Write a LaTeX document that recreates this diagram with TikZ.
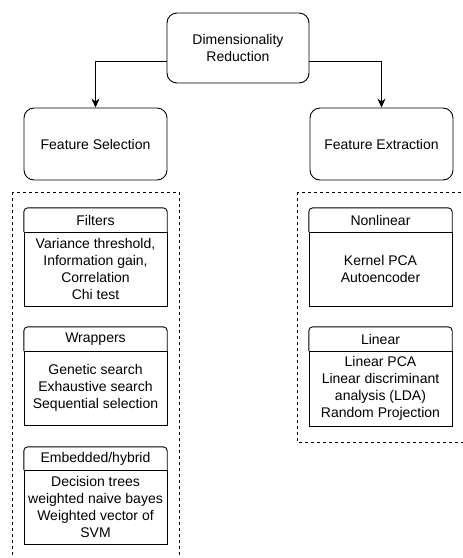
\documentclass[tikz,border=0pt]{standalone}
\usepackage{fontspec}
\setmainfont{Liberation Sans}
\usetikzlibrary{arrows.meta}
\begin{document}
\begin{tikzpicture}[x=1pt,y=-1pt,
  every node/.style={font=\fontsize{14}{16.8}\selectfont, align=center, inner sep=0pt},
  bigbox/.style={draw, rounded corners=10pt, line width=0.9pt, minimum width=143pt, minimum height=72pt},
  hdrbox/.style={minimum width=143pt, minimum height=24pt},
  bodybox/.style={draw, line width=0.9pt, minimum width=143pt, minimum height=74pt},
  dashbox/.style={dashed, dash pattern=on 3pt off 3pt, line width=0.9pt},
  arr/.style={line width=0.9pt, -{Stealth[length=9pt,width=8pt]}},
  hdrline/.style={line width=0.9pt, rounded corners=4pt}
]
\useasboundingbox (0,0) rectangle (463,558);
\clip (0,0) rectangle (463,558);

% top level
\node[bigbox, minimum width=142pt, minimum height=70pt] (dr) at (238,48) {Dimensionality\\Reduction};
\node[bigbox] (fs) at (95.5,144) {Feature Selection};
\node[bigbox] (fe) at (381.5,144) {Feature Extraction};

\draw[arr] ([yshift=-13pt]dr.west) -| (fs.north);
\draw[arr] ([yshift=-13pt]dr.east) -| (fe.north);

% dashed groups
\coordinate (ga1) at (12,192);
\coordinate (ga2) at (179,575);
\coordinate (gb1) at (297,192);
\coordinate (gb2) at (480,442);
\draw[dashbox] (ga1) rectangle (ga2);
\draw[dashbox] (gb1) rectangle (gb2);

% feature selection lanes
\node[hdrbox] (filh) at (95.5,220) {Filters};
\node[bodybox] (filb) at (95.5,269) {Variance threshold,\\Information gain,\\Correlation\\Chi test};
\node[hdrbox] (wraph) at (95.5,339) {Wrappers};
\node[bodybox] (wrapb) at (95.5,388) {Genetic search\\Exhaustive search\\Sequential selection};
\node[hdrbox, minimum height=23pt] (embh) at (95.5,458.5) {Embedded/hybrid};
\node[bodybox] (embb) at (95.5,507) {Decision trees\\weighted naive bayes\\Weighted vector of\\SVM};

% feature extraction lanes
\node[hdrbox] (nlh) at (380.5,220) {Nonlinear};
\node[bodybox] (nlb) at (380.5,269) {Kernel PCA\\Autoencoder};
\node[hdrbox] (lh) at (380.5,339) {Linear};
\node[bodybox, minimum height=75pt] (lb) at (380.5,388.5) {Linear PCA\\Linear discriminant\\analysis (LDA)\\Random Projection};

\foreach \h in {filh,wraph,embh,nlh,lh}{
  \draw[hdrline] (\h.south west) -- (\h.north west) -- (\h.north east) -- (\h.south east);
}
\end{tikzpicture}
\end{document}
